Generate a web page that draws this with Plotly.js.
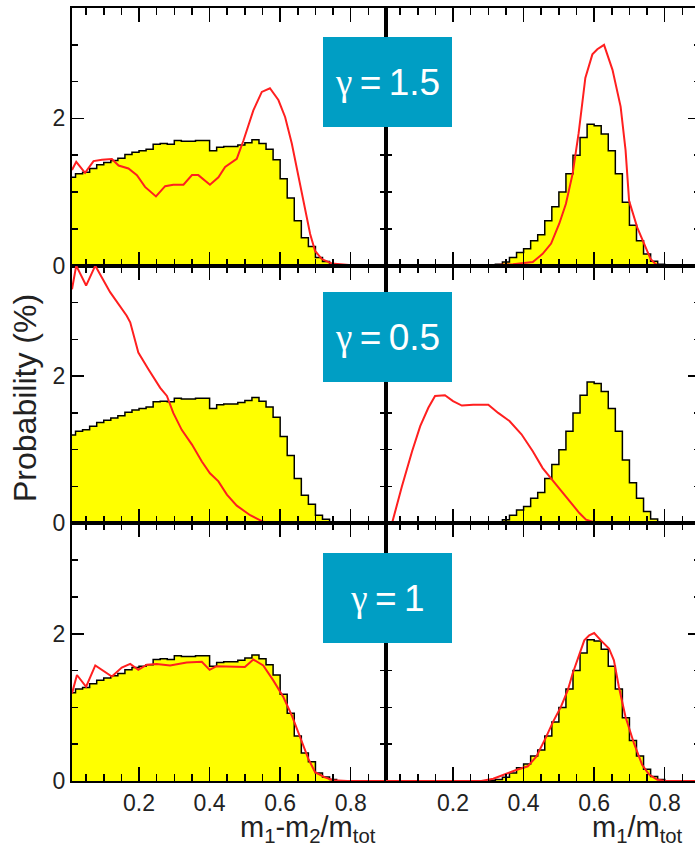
<!DOCTYPE html>
<html>
<head>
<meta charset="utf-8">
<script src="https://cdn.plot.ly/plotly-3.0.1.min.js"></script>
<style>
  html, body { margin: 0; padding: 0; overflow: hidden; background: #fff; }
  #chart { width: 700px; height: 849px; }
</style>
</head>
<body>
<div id="chart"></div>
<script>
// Histogram of (m1-m2)/mtot, bins of width 0.02 (edges and bin heights, %)
const leftHistEdges = [0.00, 0.02, 0.04, 0.06, 0.08, 0.10, 0.12, 0.14, 0.16, 0.18,
  0.20, 0.22, 0.24, 0.26, 0.28, 0.30, 0.32, 0.34, 0.36, 0.38,
  0.40, 0.42, 0.44, 0.46, 0.48, 0.50, 0.52, 0.54, 0.56, 0.58,
  0.60, 0.62, 0.64, 0.66, 0.68, 0.70, 0.72, 0.74, 0.76];
const leftHistHeights = [1.20, 1.25, 1.27, 1.32, 1.37, 1.40, 1.43, 1.46, 1.51, 1.54,
  1.56, 1.58, 1.65, 1.66, 1.65, 1.70, 1.69, 1.69, 1.70, 1.70,
  1.56, 1.61, 1.62, 1.62, 1.64, 1.67, 1.71, 1.66, 1.58, 1.44,
  1.18, 0.92, 0.61, 0.38, 0.26, 0.11, 0.055, 0.02];

// Histogram of m1/mtot
const rightHistEdges = [0.30, 0.32, 0.34, 0.36, 0.38, 0.40, 0.42, 0.44, 0.46, 0.48,
  0.50, 0.52, 0.54, 0.56, 0.58, 0.60, 0.62, 0.64, 0.66, 0.68,
  0.70, 0.72, 0.74, 0.76, 0.78, 0.80];
const rightHistHeights = [0.01, 0.02, 0.05, 0.11, 0.18, 0.23, 0.34, 0.42, 0.61, 0.80,
  1.00, 1.25, 1.50, 1.74, 1.92, 1.90, 1.79, 1.56, 1.25, 0.86,
  0.55, 0.34, 0.16, 0.06, 0.02];

// Model curves, gamma = 1.5
const g15LeftX = [0.010, 0.022, 0.047, 0.071, 0.095, 0.123, 0.142, 0.170, 0.194, 0.217,
  0.248, 0.274, 0.297, 0.326, 0.350, 0.368, 0.401, 0.425, 0.444, 0.477,
  0.496, 0.524, 0.548, 0.571, 0.595, 0.614, 0.633, 0.652, 0.670, 0.685,
  0.699, 0.718, 0.746, 0.784, 0.820, 0.900];
const g15LeftY = [1.30, 1.41, 1.26, 1.42, 1.44, 1.45, 1.36, 1.32, 1.23, 1.07,
  0.94, 1.08, 1.10, 1.10, 1.23, 1.23, 1.10, 1.20, 1.34, 1.45,
  1.70, 2.11, 2.36, 2.41, 2.25, 2.02, 1.66, 1.20, 0.75, 0.43,
  0.20, 0.09, 0.03, 0.01, 0.00, 0.00];
const g15RightX = [0.000, 0.285, 0.370, 0.426, 0.454, 0.478, 0.501, 0.520, 0.539, 0.556,
  0.575, 0.595, 0.609, 0.628, 0.652, 0.675, 0.689, 0.699, 0.722, 0.746,
  0.760, 0.774, 0.790, 0.900];
const g15RightY = [0.00, 0.00, 0.02, 0.05, 0.16, 0.30, 0.57, 0.84, 1.25, 1.80,
  2.55, 2.87, 2.94, 3.00, 2.66, 2.16, 1.57, 0.88, 0.52, 0.25,
  0.09, 0.02, 0.00, 0.00];

// Model curves, gamma = 0.5
const g05LeftX = [0.010, 0.022, 0.050, 0.076, 0.118, 0.165, 0.175, 0.198, 0.227, 0.260,
  0.279, 0.297, 0.321, 0.350, 0.378, 0.401, 0.425, 0.449, 0.477, 0.515,
  0.552, 0.580, 0.900];
const g05LeftY = [3.18, 3.50, 3.23, 3.50, 3.14, 2.82, 2.73, 2.32, 2.09, 1.84,
  1.73, 1.50, 1.27, 1.07, 0.84, 0.68, 0.57, 0.39, 0.24, 0.11,
  0.02, 0.00, 0.00];
const g05RightX = [0.000, 0.027, 0.055, 0.084, 0.107, 0.130, 0.149, 0.177, 0.200, 0.225,
  0.257, 0.300, 0.328, 0.360, 0.394, 0.426, 0.454, 0.478, 0.501, 0.530,
  0.558, 0.577, 0.605, 0.640, 0.900];
const g05RightY = [0.00, 0.00, 0.50, 0.98, 1.32, 1.57, 1.73, 1.74, 1.66, 1.60,
  1.61, 1.61, 1.50, 1.39, 1.21, 0.98, 0.75, 0.61, 0.46, 0.30,
  0.14, 0.05, 0.01, 0.00, 0.00];

// Model curves, gamma = 1
const g1LeftX = [0.010, 0.024, 0.050, 0.076, 0.123, 0.151, 0.175, 0.198, 0.222, 0.250,
  0.288, 0.335, 0.378, 0.400, 0.420, 0.458, 0.500, 0.524, 0.552, 0.580,
  0.609, 0.633, 0.656, 0.680, 0.699, 0.727, 0.750, 0.790, 0.900];
const g1LeftY = [1.19, 1.44, 1.28, 1.57, 1.42, 1.54, 1.59, 1.51, 1.58, 1.59,
  1.57, 1.61, 1.62, 1.51, 1.56, 1.56, 1.55, 1.65, 1.57, 1.37,
  1.14, 0.89, 0.60, 0.30, 0.12, 0.05, 0.01, 0.00, 0.00];
const g1RightX = [0.000, 0.280, 0.314, 0.351, 0.379, 0.412, 0.436, 0.464, 0.483, 0.506,
  0.525, 0.539, 0.558, 0.572, 0.586, 0.600, 0.619, 0.642, 0.656, 0.670,
  0.689, 0.713, 0.736, 0.755, 0.778, 0.800, 0.900];
const g1RightY = [0.00, 0.00, 0.03, 0.10, 0.15, 0.20, 0.33, 0.60, 0.80, 1.01,
  1.23, 1.46, 1.73, 1.91, 1.98, 2.01, 1.91, 1.80, 1.64, 1.28,
  0.87, 0.51, 0.22, 0.09, 0.02, 0.00, 0.00];

const gammaValues = ['1.5', '0.5', '1'];
const xTitleLeft = 'm<sub>1</sub>-m<sub>2</sub>/m<sub>tot</sub>';
const xTitleRight = 'm<sub>1</sub>/m<sub>tot</sub>';
const yTitle = 'Probability (%)';

const FONT = 'Liberation Sans, Arial, Helvetica, sans-serif';
const RED = '#ff1f1f';
const BOX = '#009ec4';

function histTrace(edges, heights, xa, ya) {
  return {
    type: 'scatter', mode: 'lines',
    x: edges, y: heights.concat([0]),
    line: { shape: 'hv', color: '#000', width: 1.5 },
    fill: 'tozeroy', fillcolor: '#ffff00',
    xaxis: xa, yaxis: ya, hoverinfo: 'skip', showlegend: false
  };
}
function curveTrace(x, y, xa, ya) {
  return {
    type: 'scatter', mode: 'lines', x: x, y: y,
    line: { color: RED, width: 2 },
    xaxis: xa, yaxis: ya, hoverinfo: 'skip', showlegend: false
  };
}
function gammaLabel(v) {
  return '<span style="font-family:Liberation Serif, DejaVu Serif, serif">γ</span>\u2009=\u2009' + v;
}

const curves = [
  [g15LeftX, g15LeftY, g15RightX, g15RightY],
  [g05LeftX, g05LeftY, g05RightX, g05RightY],
  [g1LeftX, g1LeftY, g1RightX, g1RightY]
];

const traces = [];
const layout = {
  width: 700, height: 849,
  margin: { l: 72, r: 0, t: 8, b: 68 },
  paper_bgcolor: '#fff', plot_bgcolor: '#fff',
  showlegend: false,
  font: { family: FONT, color: '#222' },
  annotations: []
};

const rowDomains = [[2 / 3, 1], [1 / 3, 2 / 3], [0, 1 / 3]];
const colDomains = [[0, 0.5], [0.5, 1]];
const boxY = [0.9043, 0.5746, 0.237];

for (let r = 0; r < 3; r++) {
  for (let c = 0; c < 2; c++) {
    const n = r * 2 + c + 1;
    const xa = n === 1 ? 'x' : 'x' + n;
    const ya = n === 1 ? 'y' : 'y' + n;
    if (c === 0) {
      traces.push(histTrace(leftHistEdges, leftHistHeights, xa, ya));
      traces.push(curveTrace(curves[r][0], curves[r][1], xa, ya));
    } else {
      traces.push(histTrace(rightHistEdges, rightHistHeights, xa, ya));
      traces.push(curveTrace(curves[r][2], curves[r][3], xa, ya));
    }
    layout['xaxis' + (n === 1 ? '' : n)] = {
      domain: colDomains[c], anchor: ya, range: [0.01, 0.9],
      showgrid: false, zeroline: false,
      showline: true, linecolor: '#000', linewidth: 2, mirror: 'ticks',
      ticks: 'inside', ticklen: 14, tickwidth: 1.5, tickcolor: '#000',
      tickmode: 'linear', tick0: 0, dtick: 0.2, tickformat: '.1f',
      minor: { ticks: 'inside', ticklen: 7, tickwidth: 1.5, tickcolor: '#000', tick0: 0, dtick: 0.05, showgrid: false },
      showticklabels: r === 2,
      tickfont: { family: FONT, size: 23, color: '#222' }
    };
    layout['yaxis' + (n === 1 ? '' : n)] = {
      domain: rowDomains[r], anchor: xa, range: [0, 3.5],
      showgrid: false, zeroline: false,
      showline: true, linecolor: '#000', linewidth: 2, mirror: 'ticks',
      ticks: 'inside', ticklen: 12, tickwidth: 1.5, tickcolor: '#000',
      tickmode: 'linear', tick0: 0, dtick: 2,
      minor: { ticks: 'inside', ticklen: 6, tickwidth: 1.5, tickcolor: '#000', tick0: 0, dtick: 0.5, showgrid: false },
      showticklabels: c === 0,
      tickfont: { family: FONT, size: 23, color: '#222' }
    };
  }
  layout.annotations.push({
    xref: 'paper', yref: 'paper', x: 0.503, y: boxY[r],
    xanchor: 'center', yanchor: 'middle', showarrow: false,
    text: gammaLabel(gammaValues[r]), width: 129, height: 90,
    bgcolor: BOX, borderpad: 0, borderwidth: 0,
    font: { family: FONT, size: 37, color: '#fff' }
  });
}

layout.annotations.push({
  xref: 'paper', yref: 'paper', x: 0.376, y: -0.062,
  xanchor: 'center', yanchor: 'middle', showarrow: false,
  text: xTitleLeft, font: { family: FONT, size: 29, color: '#222' }
});
layout.annotations.push({
  xref: 'paper', yref: 'paper', x: 0.9, y: -0.062,
  xanchor: 'center', yanchor: 'middle', showarrow: false,
  text: xTitleRight, font: { family: FONT, size: 29, color: '#222' }
});
layout.annotations.push({
  xref: 'paper', yref: 'paper', x: -0.0748, y: 0.4955,
  xanchor: 'center', yanchor: 'middle', showarrow: false, textangle: -90,
  text: yTitle, font: { family: FONT, size: 32, color: '#222' }
});

Plotly.newPlot('chart', traces, layout, { staticPlot: true, displayModeBar: false });
</script>
</body>
</html>
